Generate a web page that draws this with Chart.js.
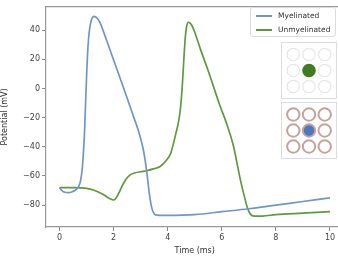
<!DOCTYPE html>
<html><head><meta charset="utf-8">
<script src="https://cdn.jsdelivr.net/npm/chart.js@4/dist/chart.umd.min.js"></script>
<style>
html,body{margin:0;padding:0;background:#fff;overflow:hidden;width:338px;height:256px;}
#wrap{position:absolute;left:0;top:0;width:360px;height:256px;}
.inset{position:absolute;width:56px;height:57px;border:1px solid #dcdcdc;background:#fff;box-sizing:border-box;}
#legend{position:absolute;left:250px;top:7px;width:86px;height:30px;border:1px solid #dcdcdc;border-radius:3px;background:rgba(255,255,255,0.85);box-sizing:border-box;font-family:"DejaVu Sans";font-size:7.5px;color:#333;}
.row{position:absolute;left:5px;height:10px;line-height:10px;white-space:nowrap;}
.sw{display:inline-block;width:16px;height:2px;vertical-align:middle;margin-right:6px;}
</style></head>
<body>
<div id="wrap"><canvas id="c" width="360" height="256"></canvas></div>
<div class="inset" style="left:281px;top:42px;"><canvas id="i1" width="54" height="55"></canvas></div>
<div class="inset" style="left:281px;top:102px;"><canvas id="i2" width="54" height="55"></canvas></div>
<div id="legend">
  <div class="row" style="top:3px;"><span class="sw" style="background:#7096c8"></span>Myelinated</div>
  <div class="row" style="top:17px;"><span class="sw" style="background:#5e9a3e"></span>Unmyelinated</div>
</div>
<script>
// Myelinated (blue)
const myelT = [0,0.1,0.2,0.33,0.45,0.58,0.7,0.78,0.84,0.88,0.92,0.96,1.0,1.05,1.1,1.17,1.28,1.4,1.5,1.75,2.0,2.25,2.5,2.75,2.9,3.0,3.1,3.18,3.25,3.32,3.4,3.47,3.55,3.7,4.0,5.0,6.0,7.0,8.0,9.0,10.0];
const myelV = [-68,-70.3,-71.2,-71.4,-71,-69.8,-67.5,-63,-55,-45,-32,-12,8,28,39,46.5,49.5,48,45,32.5,19.5,6.5,-6.5,-20,-28,-34.5,-42,-51,-61,-72,-81,-85,-86.7,-87,-87,-86.5,-84.5,-82.5,-80,-77.5,-75];
// Unmyelinated (green)
const unmyT = [0,0.5,1.0,1.3,1.6,1.85,2.0,2.1,2.2,2.3,2.45,2.61,2.8,3.0,3.22,3.5,3.72,3.96,4.1,4.21,4.3,4.39,4.45,4.5,4.55,4.6,4.65,4.7,4.76,4.82,4.9,5.0,5.2,5.5,5.93,6.1,6.23,6.35,6.45,6.55,6.68,6.82,6.95,7.05,7.2,7.5,8.0,9.0,10.0];
const unmyV = [-68,-68,-68.5,-70,-72.5,-75.5,-76.5,-75,-71.5,-67.5,-62.5,-59.3,-57.8,-57.1,-56.4,-55,-53.5,-49,-45,-38,-31,-24,-17,-8,5,21,35,42.5,45.4,45,43,38.5,27.5,12,-11.7,-20,-27,-34,-41,-50,-62,-73,-82,-86,-87.5,-87.5,-86.5,-85.5,-84.5];
const xTicks = [0,2,4,6,8,10];
const yTicks = [-80,-60,-40,-20,0,20,40];
// inset grids: 3x3 positions, index 4 (centre) is the active one
const gridX = [0,1,2,0,1,2,0,1,2];
const gridY = [2,2,2,1,1,1,0,0,0];
const activeIdx = 4;

const F = {family:"DejaVu Sans", size:8};
const pts = (t,v)=>t.map((x,i)=>({x:x,y:v[i]}));
const minus = v => String(v).replace('-', '\u2212');

new Chart(document.getElementById('c'), {
  type:'line',
  data:{datasets:[
    {label:'Myelinated', data:pts(myelT,myelV), borderColor:'#7096c8', borderWidth:1.7, pointRadius:0, cubicInterpolationMode:'monotone', fill:false},
    {label:'Unmyelinated', data:pts(unmyT,unmyV), borderColor:'#5e9a3e', borderWidth:1.7, pointRadius:0, cubicInterpolationMode:'monotone', fill:false}
  ]},
  options:{
    animation:false, responsive:false, devicePixelRatio:1,
    layout:{padding:{top:5,right:16.5,left:0,bottom:0}},
    plugins:{legend:{display:false}, tooltip:{enabled:false}},
    scales:{
      x:{type:'linear', position:'bottom', min:-0.5, max:10.5,
        afterFit:s=>{s.height=29;},
        afterBuildTicks:s=>{s.ticks=xTicks.map(v=>({value:v}));},
        ticks:{font:F, color:'#444', padding:2, maxRotation:0, callback:v=>minus(v)},
        grid:{drawOnChartArea:false, tickLength:4, color:'#888', tickColor:'#888'},
        border:{color:'#999', width:1.2},
        title:{display:true, text:'Time (ms)', font:F, color:'#333', padding:{top:1,bottom:0}}},
      xTop:{type:'linear', position:'top', min:-0.5, max:10.5,
        afterFit:s=>{s.height=0;},
        ticks:{display:false}, grid:{display:false, drawTicks:false},
        border:{display:true, color:'#999', width:1.2}},
      y:{type:'linear', min:-95, max:56,
        afterFit:s=>{s.width=46;},
        afterBuildTicks:s=>{s.ticks=yTicks.map(v=>({value:v}));},
        ticks:{font:F, color:'#444', padding:2, callback:v=>minus(v)},
        grid:{drawOnChartArea:false, tickLength:4, color:'#888', tickColor:'#888'},
        border:{color:'#999', width:1.2},
        title:{display:true, text:'Potential (mV)', font:F, color:'#333', padding:{top:0,bottom:0}}}
    }
  }
});

function inset(id, ringColor, ringWidth, fillColor, activeRing){
  const data = gridX.map((x,i)=>({x:x,y:gridY[i]}));
  new Chart(document.getElementById(id), {
    type:'scatter',
    data:{datasets:[{data:data,
      pointRadius:6.2,
      pointBorderWidth:ringWidth,
      pointBorderColor:data.map((d,i)=>i===activeIdx?activeRing:ringColor),
      pointBackgroundColor:data.map((d,i)=>i===activeIdx?fillColor:'rgba(0,0,0,0)')}]},
    options:{animation:false, responsive:false, devicePixelRatio:1,
      layout:{padding:0, autoPadding:false},
      plugins:{legend:{display:false}, tooltip:{enabled:false}},
      scales:{x:{display:false,min:-0.72,max:2.72}, y:{display:false,min:-0.72,max:2.72}}}
  });
}
inset('i1', '#e6e6e6', 1.2, '#3e7d20', '#3e7d20');
inset('i2', '#c9a09c', 2, '#4a78c2', '#c9a09c');
</script>
</body></html>
